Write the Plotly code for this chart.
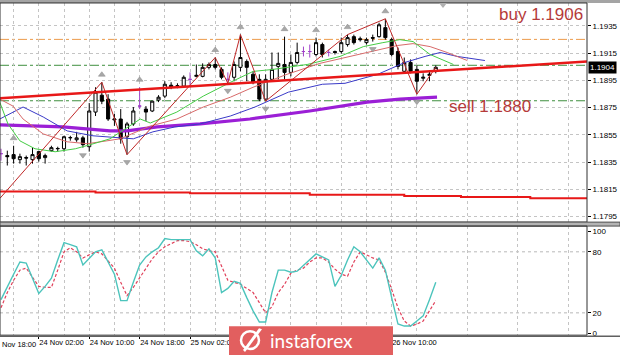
import plotly.graph_objects as go

W, H = 620, 358

# ---------------- data ----------------
bars = list(range(70))  # H1 bars, bar 0 = 23 Nov 20:00
opens = [1.18412, 1.18398, 1.18405, 1.18368, 1.18383, 1.18368, 1.18427, 1.18383, 1.18434, 1.18448,
         1.18448, 1.18528, 1.18514, 1.18528, 1.18463, 1.18717, 1.18841, 1.18812, 1.18659, 1.18666,
         1.18536, 1.18630, 1.18761, 1.18739, 1.18725, 1.18805, 1.18834, 1.18914, 1.18907, 1.18907,
         1.18957, 1.18979, 1.18979, 1.19045, 1.19066, 1.19030, 1.18957, 1.18972, 1.19045, 1.19088,
         1.18994, 1.18957, 1.18812, 1.18957, 1.19052, 1.19066, 1.19008, 1.19081, 1.19161, 1.19161,
         1.19139, 1.19212, 1.19154, 1.19161, 1.19161, 1.19212, 1.19270, 1.19255, 1.19226, 1.19263,
         1.19270, 1.19336, 1.19248, 1.19161, 1.19016, 1.19081, 1.19030, 1.18965, 1.18986, 1.19016]
highs = [1.18448, 1.18434, 1.18470, 1.18412, 1.18398, 1.18456, 1.18434, 1.18412, 1.18470, 1.18463,
         1.18543, 1.18543, 1.18572, 1.18543, 1.18783, 1.18899, 1.18936, 1.18848, 1.18703, 1.18739,
         1.18645, 1.18754, 1.18899, 1.18761, 1.18797, 1.18841, 1.18943, 1.18936, 1.18928, 1.18986,
         1.19008, 1.19066, 1.19074, 1.19081, 1.19117, 1.19045, 1.19008, 1.19088, 1.19285, 1.19103,
         1.19016, 1.18994, 1.18994, 1.19154, 1.19154, 1.19270, 1.19139, 1.19226, 1.19197, 1.19212,
         1.19263, 1.19226, 1.19175, 1.19168, 1.19263, 1.19285, 1.19285, 1.19270, 1.19263, 1.19285,
         1.19372, 1.19401, 1.19263, 1.19190, 1.19117, 1.19103, 1.19059, 1.19001, 1.19023, 1.19059]
lows = [1.18361, 1.18325, 1.18339, 1.18339, 1.18325, 1.18339, 1.18354, 1.18339, 1.18427, 1.18427,
        1.18427, 1.18507, 1.18499, 1.18456, 1.18427, 1.18688, 1.18775, 1.18652, 1.18616, 1.18485,
        1.18405, 1.18616, 1.18739, 1.18652, 1.18717, 1.18790, 1.18819, 1.18885, 1.18892, 1.18899,
        1.18907, 1.18972, 1.18972, 1.19030, 1.19030, 1.18957, 1.18928, 1.18943, 1.19016, 1.18943,
        1.18921, 1.18797, 1.18797, 1.18943, 1.18957, 1.18957, 1.18979, 1.19066, 1.19125, 1.19117,
        1.19125, 1.19117, 1.19125, 1.19139, 1.19146, 1.19197, 1.19212, 1.19234, 1.19212, 1.19234,
        1.19263, 1.19248, 1.19125, 1.19030, 1.19008, 1.19001, 1.18848, 1.18943, 1.18943, 1.19001]
closes = [1.18412, 1.18390, 1.18375, 1.18390, 1.18380, 1.18405, 1.18375, 1.18398, 1.18456, 1.18450,
          1.18536, 1.18530, 1.18528, 1.18478, 1.18725, 1.18863, 1.18797, 1.18666, 1.18666, 1.18521,
          1.18630, 1.18725, 1.18761, 1.18717, 1.18797, 1.18826, 1.18921, 1.18899, 1.18910, 1.18972,
          1.18957, 1.18986, 1.19045, 1.19066, 1.19045, 1.18972, 1.18957, 1.19066, 1.19117, 1.19045,
          1.18936, 1.18812, 1.18957, 1.19030, 1.19074, 1.19008, 1.19081, 1.19154, 1.19161, 1.19161,
          1.19226, 1.19139, 1.19154, 1.19154, 1.19226, 1.19263, 1.19226, 1.19248, 1.19248, 1.19259,
          1.19357, 1.19263, 1.19139, 1.19052, 1.19081, 1.19016, 1.18943, 1.18972, 1.18994, 1.19045]

# Alligator-style moving averages (vertices, shifted forward)
jaw_x = [-0.2, 3.5, 6.7, 10.5, 14.6, 18.4, 21.0, 24.1, 27.6, 31.6, 36.4, 40.3, 43.0, 45.6, 51.0,
         54.6, 59.8, 64.1, 67.3, 69.7, 72.4, 76.8]
jaw_y = [1.18666, 1.18754, 1.18681, 1.18579, 1.18543, 1.18528, 1.18521, 1.18572, 1.18608, 1.18630,
         1.18688, 1.18754, 1.18812, 1.18863, 1.18921, 1.18928, 1.18994, 1.19081, 1.19125, 1.19154,
         1.19125, 1.19095]
teeth_x = [-0.2, 1.9, 3.5, 6.7, 10.5, 13.7, 16.8, 18.9, 23.7, 27.9, 32.1, 36.4, 40.0, 45.4, 50.6,
           55.4, 60.2, 62.9, 65.4, 68.1, 70.8, 74.0]
teeth_y = [1.18812, 1.18761, 1.18666, 1.18557, 1.18499, 1.18485, 1.18506, 1.18521, 1.18615, 1.18666,
           1.18754, 1.18826, 1.18899, 1.18994, 1.19074, 1.19125, 1.19175, 1.19205, 1.19219, 1.19197,
           1.19154, 1.19095]
lips_x = [-0.2, 1.1, 3.0, 5.4, 8.6, 11.8, 14.1, 17.3, 22.1, 23.7, 27.9, 32.1, 36.4, 40.0, 43.2,
          48.6, 53.8, 57.5, 60.6, 63.3, 65.4, 68.1, 71.8]
lips_y = [1.18790, 1.18630, 1.18506, 1.18448, 1.18426, 1.18448, 1.18477, 1.18521, 1.18666, 1.18637,
          1.18717, 1.18834, 1.18935, 1.19015, 1.19030, 1.19066, 1.19125, 1.19197, 1.19226, 1.19248,
          1.19234, 1.19139, 1.19066]
ma_long_x = [-0.2, 9.8, 17.3, 20.0, 24.8, 31.6, 39.5, 49.0, 58.1, 63.3, 69.2]
ma_long_y = [1.18623, 1.18608, 1.18579, 1.18579, 1.18608, 1.18630, 1.18666, 1.18725, 1.18790,
             1.18812, 1.18826]

# ZigZag vertices
zz_x = [-0.16, 16, 20, 34, 36, 38, 42, 55, 61, 66, 69]
zz_y = [1.18085, 1.18936, 1.18405, 1.19117, 1.18928, 1.19285, 1.18797, 1.19285, 1.19401, 1.18848, 1.19045]

# trend line and lower channel line
trend_x = [-0.16, 93.0]
trend_y = [1.18819, 1.19088]
lower_x = [-0.16, 15, 30, 49, 64, 73, 84, 93.0]
lower_y = [1.18135, 1.18128, 1.18121, 1.18110, 1.18101, 1.18094, 1.18085, 1.18085]

# horizontal levels
level_top = 1.1925
level_buy = 1.1906
level_sell = 1.1880

# fractal bars
frac_up = [2, 16, 22, 34, 38, 45, 50, 55, 61]
frac_dn = [13, 20, 36, 42, 59, 66]

# stochastic
stoch_k = [33, 46, 58, 70, 69, 54, 39, 46, 54, 72, 89, 87, 85, 67, 74, 80, 82, 70, 58, 32,
           32, 50, 67, 75, 80, 84, 93, 92, 92, 92, 92, 81, 76, 83, 74, 40, 44, 51, 49, 35,
           22, 11, 11, 40, 62, 62, 60, 61, 67, 72, 78, 75, 72, 46, 57, 72, 85, 80, 72, 64,
           74, 62, 35, 9, 7, 7, 12, 17, 33, 50]
stoch_d = [25, 40, 52, 62, 64, 55, 46, 45, 45, 62, 80, 84, 80, 74, 77, 80, 78, 71, 64, 50,
           37, 45, 54, 64, 73, 80, 85, 88, 91, 91, 90, 87, 83, 81, 80, 66, 52, 50, 48, 44,
           40, 30, 20, 26, 40, 48, 59, 62, 64, 70, 74, 74, 70, 63, 58, 56, 70, 80, 77, 74,
           72, 60, 43, 25, 12, 7, 9, 12, 22, 32]

tick_bars = [-2, 6, 14, 22, 30, 38, 46, 54, 62]
tick_labels = ["23 Nov 18:00", "24 Nov 02:00", "24 Nov 10:00", "24 Nov 18:00", "25 Nov 02:00",
               "25 Nov 10:00", "25 Nov 18:00", "26 Nov 02:00", "26 Nov 10:00"]
hidden_by_watermark = ["25 Nov 10:00", "25 Nov 18:00", "26 Nov 02:00"]
price_ticks = [1.1795, 1.1815, 1.1835, 1.1855, 1.1875, 1.1895, 1.1915, 1.1935]
stoch_ticks = [0, 20, 80, 100]

# ---------------- layout helpers ----------------
def px(xp):
    return xp / W

def py(yp):
    return 1 - yp / H

X_RANGE = [-0.16, 93.0]
X_RIGHT = px(587)
MAIN_DOM = [py(224), py(3)]
SUB_DOM = [py(338), py(228)]
FONT = "Liberation Sans, Arial, sans-serif"

fig = go.Figure()

normal = [i for i in bars if opens[i] != closes[i]]
doji = [i for i in bars if opens[i] == closes[i]]

fig.add_trace(go.Candlestick(
    x=normal, open=[opens[i] for i in normal], high=[highs[i] for i in normal],
    low=[lows[i] for i in normal], close=[closes[i] for i in normal],
    increasing=dict(line=dict(color="#000000", width=1), fillcolor="#ffffff"),
    decreasing=dict(line=dict(color="#000000", width=1), fillcolor="#000000"),
    whiskerwidth=0, xaxis="x", yaxis="y", showlegend=False, hoverinfo="skip"))
fig.add_trace(go.Candlestick(
    x=doji, open=[opens[i] for i in doji], high=[highs[i] for i in doji],
    low=[lows[i] for i in doji], close=[closes[i] for i in doji],
    increasing=dict(line=dict(color="#a040c8", width=1), fillcolor="#a040c8"),
    decreasing=dict(line=dict(color="#a040c8", width=1), fillcolor="#a040c8"),
    whiskerwidth=0, xaxis="x", yaxis="y", showlegend=False, hoverinfo="skip"))

def line(x, y, color, width, yaxis="y", dash=None, shape="linear"):
    fig.add_trace(go.Scatter(x=x, y=y, mode="lines", yaxis=yaxis, xaxis="x",
                             line=dict(color=color, width=width, dash=dash, shape=shape),
                             showlegend=False, hoverinfo="skip"))

line(ma_long_x, ma_long_y, "#9b1fd6", 3.2)
line(jaw_x, jaw_y, "#3a3ac8", 1)
line(teeth_x, teeth_y, "#d86a6a", 1)
line(lips_x, lips_y, "#45cc45", 1)
line(zz_x, zz_y, "#c02828", 1)
line(trend_x, trend_y, "#e81818", 2.5)
line(lower_x, lower_y, "#e81818", 2, shape="hv")

fig.add_trace(go.Scatter(
    x=frac_up, y=[highs[i] + 0.00055 for i in frac_up], mode="markers", yaxis="y",
    marker=dict(symbol="triangle-up", size=6, color="#a8a8a8", line=dict(color="#888", width=0.5)),
    showlegend=False, hoverinfo="skip"))
fig.add_trace(go.Scatter(
    x=frac_dn, y=[lows[i] - 0.00055 for i in frac_dn], mode="markers", yaxis="y",
    marker=dict(symbol="triangle-down", size=6, color="#a8a8a8", line=dict(color="#888", width=0.5)),
    showlegend=False, hoverinfo="skip"))

line(bars, stoch_d, "#e0405a", 1.2, yaxis="y2", dash="3px,2px")
line(bars, stoch_k, "#4cc4bc", 1.4, yaxis="y2")

shapes = []
# level lines
for lv, col in [(level_top, "#ec9a4a"), (level_buy, "#3f8f3f"), (level_sell, "#3f8f3f")]:
    shapes.append(dict(type="line", xref="paper", x0=0, x1=X_RIGHT, yref="y", y0=lv, y1=lv,
                       line=dict(color=col, width=1, dash="dashdot"), layer="below"))
for lv in [20, 80]:
    shapes.append(dict(type="line", xref="paper", x0=0, x1=X_RIGHT, yref="y2", y0=lv, y1=lv,
                       line=dict(color="#b8b8b8", width=1, dash="3px,3px"), layer="below"))
# panel frames
shapes.append(dict(type="rect", xref="paper", yref="paper", x0=0, x1=1, y0=py(3), y1=1,
                   fillcolor="#a4a4a4", line=dict(width=0)))
shapes.append(dict(type="rect", xref="paper", yref="paper", x0=0, x1=X_RIGHT, y0=MAIN_DOM[0], y1=MAIN_DOM[1],
                   line=dict(color="#303030", width=1)))
shapes.append(dict(type="rect", xref="paper", yref="paper", x0=0, x1=1, y0=py(228), y1=py(224),
                   fillcolor="#b4b4b4", line=dict(color="#505050", width=1)))
shapes.append(dict(type="rect", xref="paper", yref="paper", x0=0, x1=X_RIGHT, y0=SUB_DOM[0], y1=SUB_DOM[1],
                   line=dict(color="#303030", width=1)))
shapes.append(dict(type="line", xref="paper", yref="paper", x0=0, x1=1, y0=py(339), y1=py(339),
                   line=dict(color="#606060", width=1.5)))
# chart shift marker
shapes.append(dict(type="path", xref="paper", yref="paper",
                   path=f"M {px(439)} {py(3)} L {px(447)} {py(3)} L {px(443)} {py(8)} Z",
                   fillcolor="#b0b0b0", line=dict(width=0)))
# watermark box + logo
shapes.append(dict(type="rect", xref="paper", yref="paper", x0=px(229), x1=px(393), y0=0, y1=py(329),
                   fillcolor="#e25f5f", line=dict(width=0), layer="above"))
shapes.append(dict(type="circle", xref="paper", yref="paper", x0=px(241), x1=px(259), y0=py(352), y1=py(334),
                   line=dict(color="white", width=2.5), layer="above"))
shapes.append(dict(type="path", xref="paper", yref="paper",
                   path=f"M {px(245)} {py(355)} L {px(262)} {py(332)} L {px(259)} {py(331)} L {px(243)} {py(353)} Z",
                   fillcolor="white", line=dict(width=0), layer="above"))

# the first time label starts left of the chart; only its "Nov 18:00" part is visible
first_visible = tick_labels[0].split(" ", 1)[1]

annotations = [
    dict(x=0, xref="paper", y=py(347), yref="paper", text=first_visible,
         showarrow=False, xanchor="left", yanchor="middle",
         font=dict(family=FONT, size=7.5, color="#000")),
    dict(x=px(497), xref="paper", y=py(15), yref="paper", text="buy 1.1906", showarrow=False,
         xanchor="left", yanchor="middle", font=dict(family=FONT, size=17, color="#b53a3a")),
    dict(x=px(447), xref="paper", y=py(107), yref="paper", text="sell 1.1880", showarrow=False,
         xanchor="left", yanchor="middle", font=dict(family=FONT, size=17, color="#b53a3a")),
    dict(x=px(588), xref="paper", y=closes[-1], yref="y", text=f"{closes[-1]:.5f}"[:-1], showarrow=False,
         xanchor="left", yanchor="middle", bgcolor="#000000", borderpad=1,
         font=dict(family=FONT, size=8, color="#ffffff")),
    dict(x=px(311), xref="paper", y=py(343), yref="paper", text="instaforex", showarrow=False,
         xanchor="center", yanchor="middle", font=dict(family="Lato, Open Sans, sans-serif", size=19, color="#ffffff")),
]

shown_text = [("" if t in hidden_by_watermark else t) for t in tick_labels[1:]]

fig.update_layout(
    width=W, height=H, margin=dict(l=0, r=0, t=0, b=0),
    paper_bgcolor="white", plot_bgcolor="white", showlegend=False,
    shapes=shapes, annotations=annotations,
    xaxis=dict(domain=[0, X_RIGHT], range=X_RANGE, anchor="y2",
               rangeslider=dict(visible=False), tickangle=0,
               tickvals=tick_bars[1:], ticktext=shown_text, ticks="outside", ticklen=3,
               tickcolor="#000", ticklabelposition="outside right",
               tickfont=dict(family=FONT, size=7.5, color="#000"),
               showgrid=True, gridcolor="#c4c4c4", griddash="dot", gridwidth=1,
               minor=dict(tickvals=list(range(2, 93, 8)), showgrid=True, gridcolor="#c4c4c4",
                          griddash="dot", ticks=""),
               zeroline=False, showline=False),
    yaxis=dict(domain=MAIN_DOM, range=[1.17910, 1.19517], anchor="x", side="right",
               tickvals=price_ticks, ticktext=[f"{v:.4f}" for v in price_ticks],
               ticks="outside", ticklen=3, tickcolor="#000",
               tickfont=dict(family=FONT, size=8, color="#000"),
               showgrid=True, gridcolor="#c4c4c4", griddash="dot", zeroline=False, showline=False),
    yaxis2=dict(domain=SUB_DOM, range=[-1.94, 105.3], anchor="x", side="right",
                tickvals=stoch_ticks, ticktext=[str(v) for v in stoch_ticks],
                ticks="outside", ticklen=3, tickcolor="#000",
                tickfont=dict(family=FONT, size=8, color="#000"),
                showgrid=False, zeroline=False, showline=False),
)

fig.write_html("out.html", config={"displayModeBar": False},
               post_script="document.body.style.margin='0px';document.body.style.overflow='hidden';")
